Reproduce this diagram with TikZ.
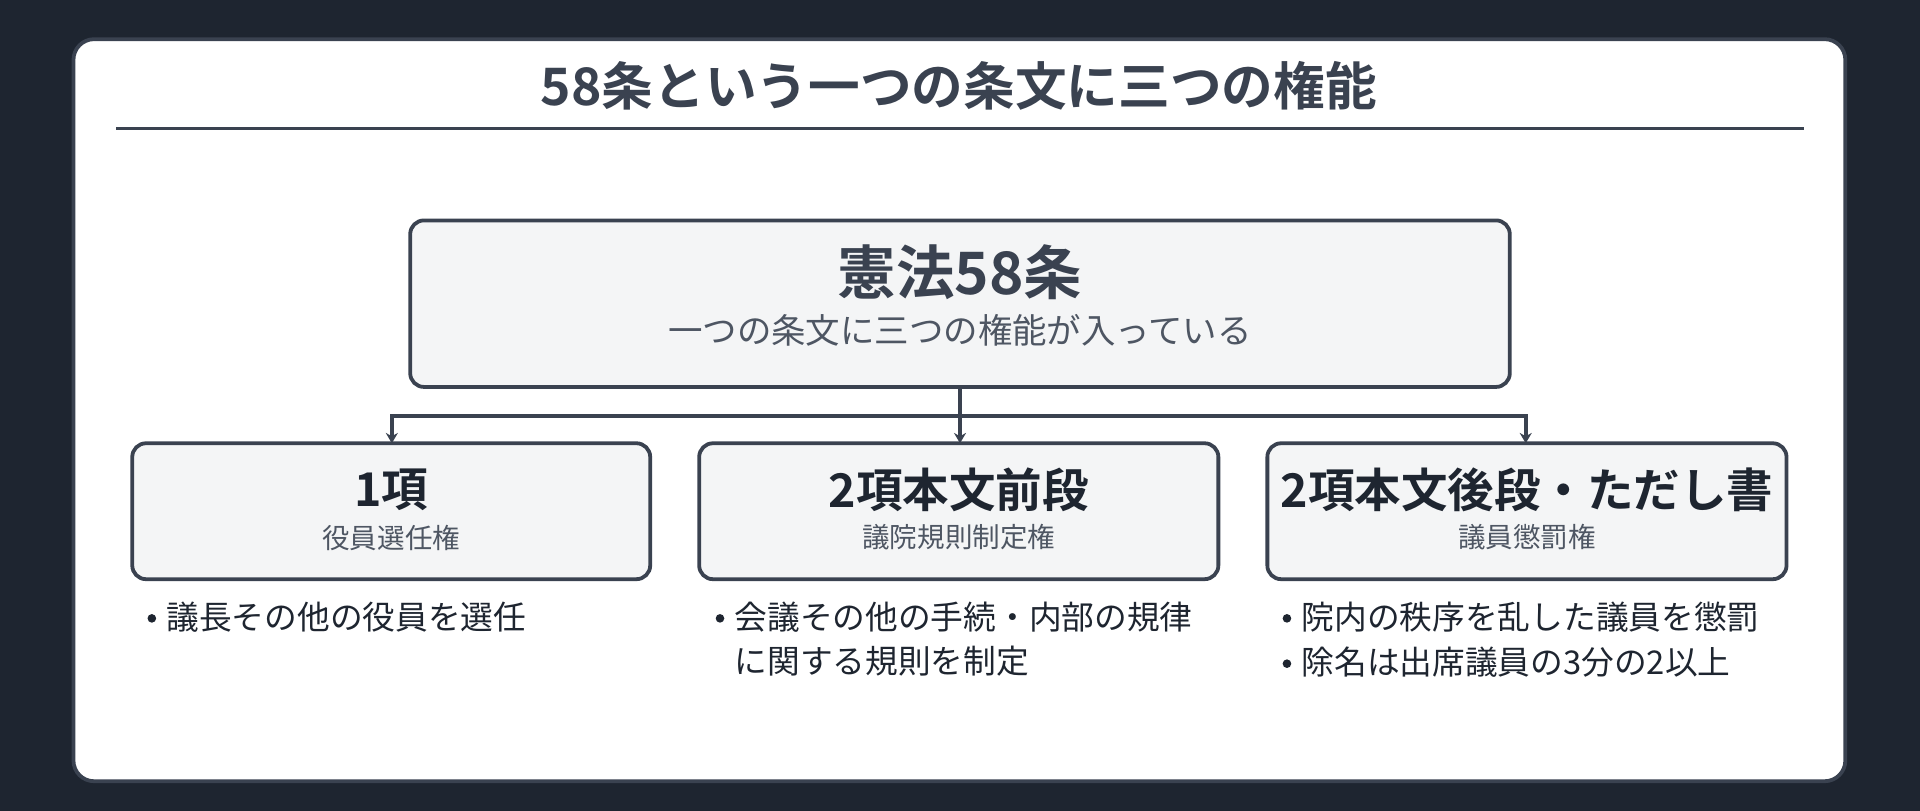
\documentclass[tikz,border=0pt]{standalone}
\usepackage{fontspec}
\setmainfont{Noto Sans CJK JP}[BoldFont=Noto Sans CJK JP Bold]
\usetikzlibrary{arrows.meta}
\definecolor{bgdark}{HTML}{1E2530}
\definecolor{ink}{HTML}{3A4250}
\definecolor{boxfill}{HTML}{F4F5F6}
\definecolor{subgray}{HTML}{4E5663}
\tikzset{
  panel/.style={draw=ink, line width=2.2pt, fill=boxfill, rounded corners=8pt},
  head/.style={font=\fontsize{27}{30}\selectfont\bfseries, text=bgdark},
  sub/.style={font=\fontsize{16}{19}\selectfont, text=subgray},
  item/.style={font=\fontsize{19}{26}\selectfont, text=bgdark, anchor=west, align=left},
  dot/.style={circle, fill=bgdark, inner sep=0pt, minimum size=5pt},
  link/.style={draw=ink, line width=2.2pt, -{Stealth[length=6pt,width=7pt]}}
}
\begin{document}
\begin{tikzpicture}[x=0.025cm, y=-0.025cm]
  \fill[bgdark] (0,0) rectangle (1568,662);
  \useasboundingbox (0,0) rectangle (1568,662);
  \draw[ink, line width=2.2pt, fill=white, rounded corners=12pt] (60,32) rectangle (1507,638);

  \node[font=\fontsize{30}{34}\selectfont\bfseries, text=ink] (title) at (783,70) {58条という一つの条文に三つの権能};
  \draw[ink, line width=1.5pt] (95,105) -- (1473,105);

  % top box
  \draw[panel] (335,180) rectangle (1233,316);
  \node[font=\fontsize{34}{38}\selectfont\bfseries, text=ink] (art) at (784,222) {憲法58条};
  \node[font=\fontsize{20}{24}\selectfont, text=subgray] (artsub) at (784,270) {一つの条文に三つの権能が入っている};
  \coordinate (root) at (784,316);
  \coordinate (fork) at (784,340);

  % three boxes
  \foreach \n/\xl/\xr/\ttl/\st in {p1/108/531/1項/役員選任権,
                                   p2/571/995/2項本文前段/議院規則制定権,
                                   p3/1035/1459/2項本文後段・ただし書/議員懲罰権}{
    \draw[panel] (\xl,362) rectangle (\xr,473);
    \node[head] (\n) at ({(\xl+\xr)/2},400) {\ttl};
    \node[sub] (\n sub) at ({(\xl+\xr)/2},439) {\st};
  }
  \coordinate (in1) at (320,362);
  \coordinate (in2) at (784,362);
  \coordinate (in3) at (1246,362);

  \draw[ink, line width=2.2pt] (root) -- (fork);
  \draw[link] (fork) -- (320,340) -- (in1);
  \draw[link] (fork) -- (1246,340) -- (in3);
  \draw[link] (fork) -- (in2);

  % bullets
  \node[dot] (b1) at (124,505) {};
  \node[item] (t1) at (131,504) {議長その他の役員を選任};
  \node[dot] (b2) at (588,505) {};
  \node[item] (t2) at (595,522) {会議その他の手続・内部の規律\\に関する規則を制定};
  \node[dot] (b3) at (1051,505) {};
  \node[item] (t3) at (1058,504) {院内の秩序を乱した議員を懲罰};
  \node[dot] (b4) at (1051,542) {};
  \node[item] (t4) at (1058,541) {除名は出席議員の3分の2以上};
\end{tikzpicture}
\end{document}
